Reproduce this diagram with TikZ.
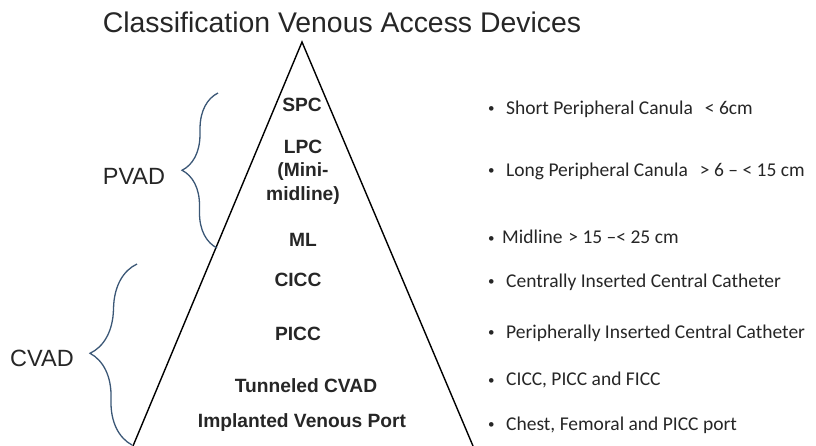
\documentclass[tikz,border=0pt]{standalone}
\usepackage{fontspec}
\setmainfont{Liberation Sans}
\newfontfamily\calibri[Ligatures=TeX]{Carlito}
\usetikzlibrary{positioning,decorations.pathreplacing}
\definecolor{bracecol}{RGB}{59,87,118}
\definecolor{textcol}{RGB}{38,38,38}
\newcommand{\dotmark}{\raisebox{1.5pt}{\fontsize{13}{13}\selectfont •}}
\newcommand{\itm}{\makebox[18pt][l]{\dotmark}}

\begin{document}
\begin{tikzpicture}[
x=1pt, y=-1pt,
levelnode/.style={text=textcol, font=\bfseries\fontsize{19.2}{23.5}\selectfont, align=center, inner sep=0pt},
groupnode/.style={text=textcol, font=\fontsize{23.5}{28}\selectfont, inner sep=0pt},
itemnode/.style={text=textcol, font=\calibri\fontsize{19.5}{23}\selectfont, anchor=west, inner sep=0pt},
bracepath/.style={draw=bracecol, line width=1.3pt, decorate},
sidepath/.style={draw=black, line width=1.4pt}]
\useasboundingbox (0,0) rectangle (816,446);
% Title
\node[text=textcol, font=\fontsize{28.4}{34}\selectfont, inner sep=0pt] (title) at (342,22) {Classification Venous Access Devices};
% Triangle
\coordinate (apex) at (302,42);
\coordinate (baseL) at (133,446);
\coordinate (baseR) at (473,446);
\draw[sidepath] (baseL) -- (apex) -- (baseR);
% Levels
\node[levelnode] (spc) at (302,105) {SPC};
\node[levelnode] (lpc) at (303,172) {LPC\\(Mini-\\midline)};
\node[levelnode] (ml) at (303,240) {ML};
\node[levelnode] (cicc) at (298,280) {CICC};
\node[levelnode] (picc) at (298,334) {PICC};
\node[levelnode] (tcvad) at (306,386) {Tunneled CVAD};
\node[levelnode] (port) at (302,423) {Implanted Venous Port};
% Groups
\coordinate (pvadT) at (218,93);
\coordinate (pvadB) at (217,248);
\coordinate (cvadT) at (137,264);
\coordinate (cvadB) at (132,445);
\draw[bracepath, decoration={brace, amplitude=35.5pt}] (pvadB) -- (pvadT);
\draw[bracepath, decoration={brace, amplitude=44.5pt}] (cvadB) -- (cvadT);
\node[groupnode] (pvad) at (134,176) {PVAD};
\node[groupnode] (cvad) at (42,358) {CVAD};
% Descriptions
\node[itemnode] (dspc) at (488,109) {\itm Short Peripheral Canula\hspace{12pt}< 6cm};
\node[itemnode] (dlpc) at (488,171) {\itm Long Peripheral Canula\hspace{12pt}> 6 – < 15 cm};
\node[itemnode] (dml) at (488,237) {\makebox[14pt][l]{\dotmark}Midline\hspace{6pt}> 15 –< 25 cm};
\node[itemnode] (dcicc) at (488,282) {\itm Centrally Inserted Central Catheter};
\node[itemnode] (dpicc) at (488,333) {\itm Peripherally Inserted Central Catheter};
\node[itemnode] (dtcvad) at (488,380) {\itm CICC, PICC and FICC};
\node[itemnode] (dport) at (488,425) {\itm Chest, Femoral and PICC port};
\end{tikzpicture}
\end{document}
